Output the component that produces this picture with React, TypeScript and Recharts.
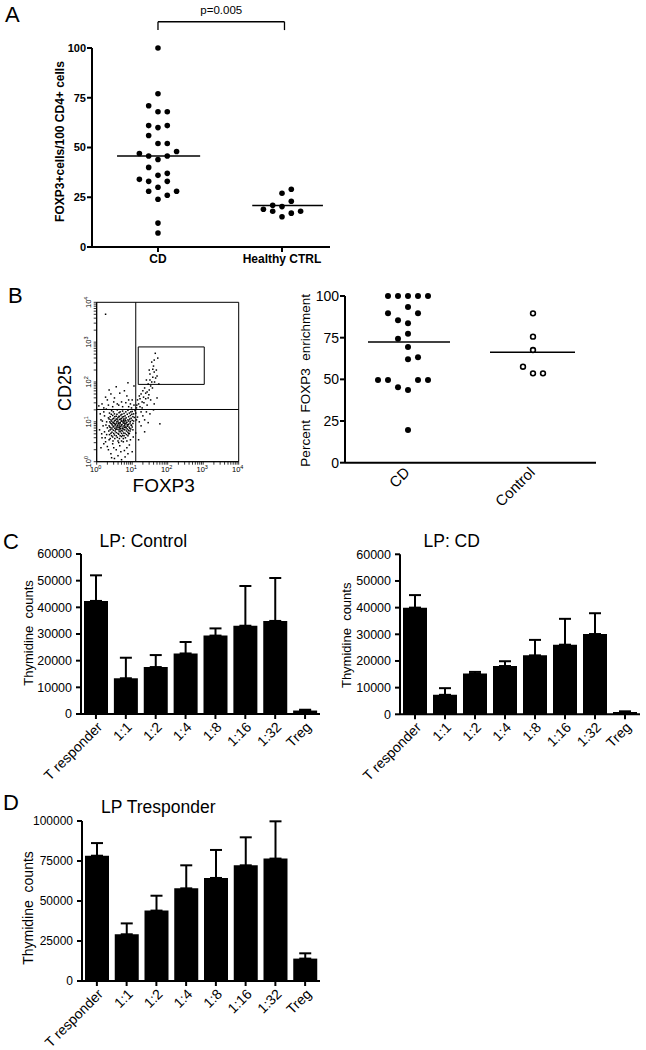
import React from 'react';
import {
  ScatterChart, Scatter, XAxis, YAxis, ReferenceLine, ReferenceArea,
  BarChart, Bar, ErrorBar, Label,
} from 'recharts';

const FONT = '"Liberation Sans", Arial, Helvetica, sans-serif';
const INK = '#000';

// ---------------- Panel A: FOXP3+ cells / 100 CD4+ cells ----------------
const aGroups = ['CD', 'Healthy CTRL'];
const aCdValues = [100, 77, 71, 68, 68, 61, 60, 61, 56, 52, 52, 47, 45.7, 44, 45.7, 48, 40, 34, 33, 36, 37, 30, 33, 28, 26, 28, 24, 12, 7];
const aCdColumn = [0, 0, -1, 0, 1, -1, 0, 1, -1, 0, 1, -2, -1, 0, 1, 2, -1, -2, -1, 0, 1, 0, 1, -1, 1, 2, 0, 0, 0];
const aCtrlValues = [27, 29, 23, 19, 21, 18, 20.3, 15.2, 17, 18];
const aCtrlColumn = [0, 1, 1, -2, -1, -1, 0, 0, 1, 2];
const aMeans = [45.7, 20.8];
const aTicks = [0, 25, 50, 75, 100];
const aPValue = 'p=0.005';

// ---------------- Panel B: flow plot (log10 fluorescence: FOXP3, CD25) ----------------
const flowPoints: [number, number][] = [
  [0.42, 1.28], [0.58, 1.3], [0.73, 1.27], [0.88, 1.29], [1.0, 1.26],
  [0.36, 1.22], [0.5, 1.2], [0.63, 1.23], [0.77, 1.21], [0.92, 1.22], [1.04, 1.2],
  [0.45, 1.16], [0.55, 1.14], [0.68, 1.17], [0.8, 1.15], [0.95, 1.16],
  [0.33, 1.1], [0.48, 1.09], [0.6, 1.11], [0.7, 1.08], [0.83, 1.1], [0.97, 1.09], [1.06, 1.11],
  [0.4, 1.05], [0.52, 1.04], [0.64, 1.06], [0.75, 1.03], [0.88, 1.05], [1.0, 1.04],
  [0.37, 1.0], [0.46, 0.99], [0.57, 1.01], [0.66, 0.98], [0.74, 1.0], [0.85, 0.99], [0.95, 1.01],
  [0.42, 0.95], [0.53, 0.94], [0.62, 0.96], [0.71, 0.93], [0.8, 0.95], [0.9, 0.94], [1.02, 0.96],
  [0.35, 0.9], [0.48, 0.89], [0.58, 0.91], [0.68, 0.88], [0.77, 0.9], [0.86, 0.89], [0.98, 0.91],
  [0.4, 0.85], [0.51, 0.84], [0.63, 0.86], [0.72, 0.83], [0.83, 0.85], [0.93, 0.84],
  [0.38, 0.8], [0.47, 0.79], [0.6, 0.81], [0.69, 0.78], [0.79, 0.8], [0.9, 0.79],
  [0.43, 0.74], [0.55, 0.73], [0.66, 0.75], [0.76, 0.72], [0.88, 0.74],
  [0.36, 0.68], [0.5, 0.67], [0.62, 0.69], [0.73, 0.66], [0.84, 0.68],
  [0.45, 0.62], [0.58, 0.61], [0.7, 0.63], [0.81, 0.6],
  [0.55, 1.07], [0.61, 0.97], [0.69, 1.02], [0.78, 0.97], [0.65, 0.92], [0.72, 1.12], [0.59, 0.87],
  [0.82, 1.03], [0.5, 0.96], [0.67, 0.83], [0.76, 1.07], [0.86, 0.93], [0.63, 1.14], [0.54, 0.81], [0.79, 0.86],
  [0.47, 1.25], [0.66, 1.25], [0.82, 1.25], [0.96, 1.25],
  [0.41, 1.19], [0.57, 1.19], [0.71, 1.19], [0.86, 1.19], [0.99, 1.19],
  [0.38, 1.13], [0.51, 1.13], [0.64, 1.13], [0.76, 1.13], [0.9, 1.13], [1.02, 1.13],
  [0.35, 1.07], [0.45, 1.07], [0.58, 1.07], [0.67, 1.07], [0.8, 1.07], [0.93, 1.07],
  [0.42, 1.02], [0.5, 1.02], [0.6, 1.02], [0.7, 1.02], [0.79, 1.02], [0.9, 1.02], [1.04, 1.02],
  [0.39, 0.97], [0.47, 0.97], [0.56, 0.97], [0.66, 0.97], [0.75, 0.97], [0.83, 0.97], [0.94, 0.97],
  [0.44, 0.92], [0.52, 0.92], [0.6, 0.92], [0.7, 0.92], [0.79, 0.92], [0.88, 0.92], [0.97, 0.92],
  [0.37, 0.87], [0.46, 0.87], [0.55, 0.87], [0.64, 0.87], [0.74, 0.87], [0.81, 0.87], [0.91, 0.87], [1.0, 0.87],
  [0.43, 0.82], [0.56, 0.82], [0.65, 0.82], [0.75, 0.82], [0.86, 0.82], [0.96, 0.82],
  [0.34, 0.77], [0.52, 0.77], [0.63, 0.77], [0.73, 0.77], [0.84, 0.77], [0.94, 0.77],
  [0.4, 0.71], [0.48, 0.71], [0.6, 0.71], [0.7, 0.71], [0.8, 0.71], [0.92, 0.71],
  [0.42, 0.65], [0.55, 0.65], [0.66, 0.65], [0.77, 0.65], [0.88, 0.65],
  [0.38, 0.58], [0.51, 0.58], [0.64, 0.58], [0.75, 0.58],
  [0.46, 0.52], [0.6, 0.52], [0.7, 0.52], [0.85, 0.52],
  [0.15, 1.45], [0.3, 1.55], [0.5, 1.6], [0.7, 1.5], [0.85, 1.65], [0.2, 1.35], [0.95, 1.45], [0.62, 1.42],
  [0.4, 1.7], [0.78, 1.78], [0.55, 1.88], [0.25, 1.62], [1.0, 1.55], [0.9, 1.38], [0.1, 1.2], [0.12, 1.05],
  [0.18, 0.9], [0.08, 0.8], [0.22, 0.75], [0.15, 0.6], [0.25, 0.5], [0.3, 0.38], [0.45, 0.45], [0.55, 0.3],
  [0.65, 0.4], [0.75, 0.5], [0.85, 0.35], [0.95, 0.55], [0.4, 0.2], [0.6, 0.15], [0.8, 0.12], [0.5, 0.08],
  [0.35, 0.55], [0.68, 0.25], [1.0, 0.25], [0.9, 0.7], [1.02, 0.8], [0.28, 1.0], [0.2, 1.25], [0.3, 0.85],
  [0.22, 1.15], [0.27, 1.32], [0.33, 1.42], [0.45, 1.38], [0.58, 1.45], [0.73, 1.38], [0.82, 1.48], [0.98, 1.35],
  [1.05, 1.42], [0.28, 0.68], [0.2, 0.45], [0.33, 0.3], [0.48, 0.35], [0.62, 0.48], [0.78, 0.28], [0.92, 0.42],
  [1.03, 0.62], [0.16, 1.02], [0.26, 0.92], [0.24, 0.6], [0.12, 0.35], [0.42, 0.1], [0.7, 0.05], [0.88, 0.2],
  [0.35, 1.8], [0.65, 1.72], [0.48, 1.5], [0.9, 1.55], [0.06, 1.4], [0.14, 0.7],
  [1.12, 1.35], [1.18, 1.45], [1.22, 1.38], [1.28, 1.5], [1.15, 1.55], [1.32, 1.62], [1.25, 1.7], [1.38, 1.58],
  [1.42, 1.75], [1.35, 1.85], [1.48, 1.8], [1.45, 1.95], [1.52, 1.9], [1.4, 2.05], [1.55, 2.0], [1.58, 2.12],
  [1.5, 2.2], [1.62, 2.25], [1.6, 2.4], [1.66, 2.1], [1.68, 2.3], [1.55, 2.5], [1.72, 2.6], [1.65, 2.72],
  [1.3, 1.78], [1.2, 1.65], [1.45, 1.6], [1.75, 1.95], [1.1, 1.22], [1.15, 1.12], [1.2, 1.0], [1.3, 1.15],
  [1.4, 1.25], [1.25, 0.9], [1.35, 1.05], [1.5, 1.2], [1.62, 1.45], [1.7, 1.6], [1.78, 0.95], [1.1, 0.72],
  [1.08, 1.28], [1.18, 0.55], [1.05, 1.9], [0.88, 1.98], [0.25, 3.7],
  [1.13, 1.42], [1.22, 1.58], [1.33, 1.48], [1.38, 1.72], [1.47, 1.68], [1.5, 2.05], [1.57, 1.85], [1.63, 2.0],
  [1.58, 2.32], [1.7, 2.15], [1.52, 1.55], [1.28, 1.35], [1.42, 1.42], [1.12, 1.05], [1.25, 1.25], [1.6, 1.3],
  [1.35, 0.75], [1.45, 0.98], [1.62, 2.55], [1.48, 2.3],
];
const flowDecades = [0, 1, 2, 3, 4];
const flowQuadrant = { foxp3: 1.1, cd25: 1.31 };
const flowGate = { x1: 1.17, x2: 3.03, y1: 1.94, y2: 2.88 };

// ---------------- Panel B: percent FOXP3 enrichment ----------------
const bGroups = ['CD', 'Control'];
const bCdValues = [100, 100, 100, 100, 100, 93.4, 89.6, 89.6, 85.4, 83.6, 77.4, 74.4, 69.4, 62, 63.2, 49.6, 49.6, 49.6, 49.6, 45.2, 43.6, 19.6];
const bCdColumn = [-2, -1, 0, 1, 2, 0, -2, 1, -1, 0, 0, -1, 0, 0, 1, -3, -2, 1, 2, -1, 0, 0];
const bCtrlValues = [89.6, 75.6, 67.6, 57.6, 53.6, 53.6];
const bCtrlColumn = [0, 0, 0, -1, 0, 1];
const bMeans = [72.4, 66.2];
const bTicks = [0, 25, 50, 75, 100];

// ---------------- Panels C & D: thymidine counts ----------------
const ratioCategories = ['T responder', '1:1', '1:2', '1:4', '1:8', '1:16', '1:32', 'Treg'];
const lpControlMean = [42400, 13400, 17600, 22700, 29400, 33100, 34900, 1300];
const lpControlErr = [9600, 7700, 4500, 4300, 2700, 14900, 16100, 300];
const lpCdMean = [40000, 7300, 15300, 18100, 22100, 26100, 30100, 900];
const lpCdErr = [4700, 2500, 600, 1800, 5800, 9700, 7800, 200];
const lpTrespMean = [78300, 29200, 44000, 57900, 64400, 72300, 76500, 14000];
const lpTrespErr = [7900, 6800, 9300, 14400, 17500, 17500, 23300, 3300];
const cTicks = [0, 10000, 20000, 30000, 40000, 50000, 60000];
const dTicks = [0, 25000, 50000, 75000, 100000];

// ---------------- helpers ----------------
const A_STEP = 0.075;
const B_STEP = 0.08;

const FilledDot = (p: any) => <circle cx={p.cx} cy={p.cy} r={2.8} fill={INK} />;
const FilledDotB = (p: any) => <circle cx={p.cx} cy={p.cy} r={3} fill={INK} />;
const OpenDot = (p: any) => (
  <circle cx={p.cx} cy={p.cy} r={2.4} fill="#fff" stroke={INK} strokeWidth={1.6} />
);
const FlowDot = (p: any) => (
  <rect x={p.cx - 0.75} y={p.cy - 0.75} width={1.5} height={1.5} fill={INK} />
);

function RotTick(props: any) {
  const { x, y, label, fontSize, ox, oy } = props;
  return (
    <g transform={`translate(${Number(x)},${Number(y)})`}>
      <text
        x={ox}
        y={oy}
        transform="rotate(-45)"
        textAnchor="end"
        fontSize={fontSize}
        fontFamily={FONT}
        fill={INK}
      >
        {label}
      </text>
    </g>
  );
}

function FlowXTick(props: any) {
  const { x, y, payload } = props;
  const v = payload.value;
  if (!Number.isInteger(v)) return <g />;
  return (
    <text x={x - 1} y={y + 5} textAnchor="middle" fontSize={7.5} fontFamily={FONT} fill={INK}>
      10<tspan dy={-3} fontSize={5.5}>{v}</tspan>
    </text>
  );
}

function FlowYTick(props: any) {
  const { x, y, payload } = props;
  const v = payload.value;
  if (!Number.isInteger(v)) return <g />;
  return (
    <text
      x={x - 1}
      y={y}
      transform={`rotate(-90 ${x - 1} ${y})`}
      textAnchor="middle"
      fontSize={7.5}
      fontFamily={FONT}
      fill={INK}
    >
      10<tspan dy={-3} fontSize={5.5}>{v}</tspan>
    </text>
  );
}

const flowTicks: number[] = [];
flowDecades.forEach((d) => {
  flowTicks.push(d);
  if (d < 4) [2, 3, 4, 5, 6, 7, 8, 9].forEach((k) => flowTicks.push(d + Math.log10(k)));
});

const axisLine2 = { stroke: INK, strokeWidth: 2 };

// ---------------- Panel A chart ----------------
function PanelA() {
  const cd = aCdValues.map((v, i) => ({ x: 1 + aCdColumn[i] * A_STEP, y: v }));
  const ctrl = aCtrlValues.map((v, i) => ({ x: 2 + aCtrlColumn[i] * A_STEP, y: v }));
  return (
    <ScatterChart width={340} height={275} margin={{ top: 48, right: 10, bottom: 0, left: 0 }}>
      <XAxis
        type="number" dataKey="x" domain={[0.468, 2.387]} ticks={[1, 2]} allowDataOverflow interval={0}
        tickFormatter={(v: number) => aGroups[v - 1]} height={28}
        axisLine={axisLine2} tickLine={axisLine2} tickSize={5} tickMargin={2}
        tick={{ fill: INK, fontSize: 12, fontWeight: 700, fontFamily: FONT }}
      />
      <YAxis
        type="number" dataKey="y" domain={[0, 100]} ticks={aTicks} width={92} interval={0}
        axisLine={axisLine2} tickLine={axisLine2} tickSize={5} tickMargin={1}
        tick={{ fill: INK, fontSize: 11, fontWeight: 700, fontFamily: FONT }}
      >
        <Label
          value="FOXP3+cells/100 CD4+ cells" angle={-90} position="center" dx={14} dy={-6}
          style={{ fontSize: 12, fontWeight: 700, fontFamily: FONT, fill: INK }}
        />
      </YAxis>
      <ReferenceLine segment={[{ x: 0.67, y: aMeans[0] }, { x: 1.34, y: aMeans[0] }]} stroke={INK} strokeWidth={1.5} />
      <ReferenceLine segment={[{ x: 1.76, y: aMeans[1] }, { x: 2.33, y: aMeans[1] }]} stroke={INK} strokeWidth={1.5} />
      <ReferenceLine
        segment={[{ x: 1, y: 113.2 }, { x: 2.02, y: 113.2 }]} ifOverflow="visible" stroke={INK} strokeWidth={1.3}
        label={{ value: aPValue, position: 'top', offset: 8, fill: INK, fontSize: 11.5, fontFamily: FONT }}
      />
      <ReferenceLine segment={[{ x: 1, y: 113.2 }, { x: 1, y: 109 }]} ifOverflow="visible" stroke={INK} strokeWidth={1.3} />
      <ReferenceLine segment={[{ x: 2.02, y: 113.2 }, { x: 2.02, y: 109 }]} ifOverflow="visible" stroke={INK} strokeWidth={1.3} />
      <Scatter data={cd} shape={FilledDot} isAnimationActive={false} />
      <Scatter data={ctrl} shape={FilledDot} isAnimationActive={false} />
    </ScatterChart>
  );
}

// ---------------- Panel B flow chart ----------------
function PanelBFlow() {
  const pts = flowPoints.map(([fx, fy]) => ({ x: fx, y: fy }));
  return (
    <ScatterChart width={250} height={218} margin={{ top: 22.3, right: 11.3, bottom: 0, left: 0 }}>
      <XAxis
        type="number" dataKey="x" domain={[0, 4]} ticks={flowTicks} interval={0} allowDataOverflow height={36.3}
        axisLine={{ stroke: INK, strokeWidth: 1 }} tickLine={{ stroke: INK, strokeWidth: 0.8 }} tickSize={3} tickMargin={2}
        tick={(p: any) => <FlowXTick {...p} />}
      >
        <Label value="FOXP3" position="center" dx={-4} dy={5} style={{ fontSize: 19, fontFamily: FONT, fill: INK }} />
      </XAxis>
      <YAxis
        type="number" dataKey="y" domain={[0, 4]} ticks={flowTicks} interval={0} allowDataOverflow width={96.7}
        axisLine={{ stroke: INK, strokeWidth: 1 }} tickLine={{ stroke: INK, strokeWidth: 0.8 }} tickSize={3} tickMargin={2}
        tick={(p: any) => <FlowYTick {...p} />}
      >
        <Label value="CD25" angle={-90} position="center" dx={16.5} dy={6} style={{ fontSize: 18, fontFamily: FONT, fill: INK }} />
      </YAxis>
      <ReferenceArea x1={0} x2={4} y1={0} y2={4} fill="none" fillOpacity={0} stroke={INK} strokeWidth={1} />
      <ReferenceLine x={flowQuadrant.foxp3} stroke={INK} strokeWidth={1} />
      <ReferenceLine y={flowQuadrant.cd25} stroke={INK} strokeWidth={1} />
      <ReferenceArea x1={flowGate.x1} x2={flowGate.x2} y1={flowGate.y1} y2={flowGate.y2} fill="none" fillOpacity={0} stroke={INK} strokeWidth={1} />
      <Scatter data={pts} shape={FlowDot} isAnimationActive={false} />
    </ScatterChart>
  );
}

// ---------------- Panel B enrichment chart ----------------
function PanelBEnrich() {
  const cd = bCdValues.map((v, i) => ({ x: 1 + bCdColumn[i] * B_STEP, y: v }));
  const ctrl = bCtrlValues.map((v, i) => ({ x: 2 + bCtrlColumn[i] * B_STEP, y: v }));
  return (
    <ScatterChart width={396} height={240} margin={{ top: 26, right: 50, bottom: 0, left: 0 }}>
      <XAxis
        type="number" dataKey="x" domain={[0.496, 2.504]} ticks={[1, 2]} allowDataOverflow interval={0}
        height={47.3}
        axisLine={axisLine2} tickLine={false} tickSize={0} tickMargin={2}
        tick={(p: any) => (
          <RotTick x={p.x} y={p.y} label={bGroups[p.payload.value - 1]} fontSize={15} ox={-4.2} oy={8.1} />
        )}
      />
      <YAxis
        type="number" dataKey="y" domain={[0, 100]} ticks={bTicks} width={95} interval={0}
        axisLine={axisLine2} tickLine={axisLine2} tickSize={5} tickMargin={1}
        tick={{ fill: INK, fontSize: 14, fontFamily: FONT }}
      >
        <Label
          value={'Percent\u00A0 FOXP3\u00A0 enrichment'} angle={-90} position="center" dx={7.5} dy={1}
          style={{ fontSize: 13.5, fontFamily: FONT, fill: INK }}
        />
      </YAxis>
      <ReferenceLine segment={[{ x: 0.68, y: bMeans[0] }, { x: 1.336, y: bMeans[0] }]} stroke={INK} strokeWidth={1.5} />
      <ReferenceLine segment={[{ x: 1.656, y: bMeans[1] }, { x: 2.336, y: bMeans[1] }]} stroke={INK} strokeWidth={1.5} />
      <Scatter data={cd} shape={FilledDotB} isAnimationActive={false} />
      <Scatter data={ctrl} shape={OpenDot} isAnimationActive={false} />
    </ScatterChart>
  );
}

// ---------------- Bar panels ----------------
type BarPanelProps = {
  width: number;
  height: number;
  means: number[];
  errs: number[];
  ticks: number[];
  max: number;
  yWidth: number;
  margin: { top: number; right: number; bottom: number; left: number };
  xHeight: number;
  titleDx: number;
  titleDy: number;
  titleSize: number;
  tickFont: number;
};

function BarPanel(props: BarPanelProps) {
  const { width, height, means, errs, ticks, max, yWidth, margin, xHeight, titleDx, titleDy, titleSize, tickFont } = props;
  const data = ratioCategories.map((name, i) => ({ name, mean: means[i], err: [0, errs[i]] }));
  return (
    <BarChart width={width} height={height} data={data} margin={margin} barSize={24}>
      <XAxis
        dataKey="name" interval={0} height={xHeight}
        axisLine={axisLine2} tickLine={axisLine2} tickSize={5} tickMargin={2}
        angle={-45} textAnchor="end"
        tick={{ fill: INK, fontSize: 14, fontFamily: FONT }}
      />
      <YAxis
        type="number" domain={[0, max]} ticks={ticks} width={yWidth} interval={0} allowDataOverflow
        axisLine={axisLine2} tickLine={axisLine2} tickSize={5} tickMargin={4}
        tick={{ fill: INK, fontSize: tickFont, fontFamily: FONT }}
      >
        <Label
          value={'Thymidine\u00A0 counts'} angle={-90} position="center" dx={titleDx} dy={titleDy}
          style={{ fontSize: titleSize, fontFamily: FONT, fill: INK }}
        />
      </YAxis>
      <Bar dataKey="mean" fill={INK} isAnimationActive={false}>
        <ErrorBar dataKey="err" direction="y" width={6} stroke={INK} strokeWidth={2} isAnimationActive={false} />
      </Bar>
    </BarChart>
  );
}

export default function App() {
  return (
    <div style={{ position: 'absolute', left: 0, top: 0, width: 646, height: 1050, background: '#fff', fontFamily: FONT }}>
      <div style={{ position: 'absolute', left: 0, top: 0 }}>
        <PanelA />
      </div>
      <div style={{ position: 'absolute', left: 0, top: 280 }}>
        <PanelBFlow />
      </div>
      <div style={{ position: 'absolute', left: 250, top: 270 }}>
        <PanelBEnrich />
      </div>
      <div style={{ position: 'absolute', left: 0, top: 520 }}>
        <BarPanel
          width={330} height={270} means={lpControlMean} errs={lpControlErr} ticks={cTicks} max={60000} yWidth={81}
          margin={{ top: 34, right: 10, bottom: 0, left: 0 }} xHeight={76}
          titleDx={-12.2} titleDy={-1} titleSize={13} tickFont={12.5}
        />
      </div>
      <div style={{ position: 'absolute', left: 320, top: 520 }}>
        <BarPanel
          width={326} height={270} means={lpCdMean} errs={lpCdErr} ticks={cTicks} max={60000} yWidth={80}
          margin={{ top: 34.3, right: 6, bottom: 0, left: 0 }} xHeight={75.7}
          titleDx={-13.3} titleDy={1} titleSize={13} tickFont={12.5}
        />
      </div>
      <div style={{ position: 'absolute', left: 0, top: 790 }}>
        <BarPanel
          width={330} height={260} means={lpTrespMean} errs={lpTrespErr} ticks={dTicks} max={100000} yWidth={82}
          margin={{ top: 31, right: 10, bottom: 0, left: 0 }} xHeight={69}
          titleDx={-12.7} titleDy={7} titleSize={14} tickFont={12}
        />
      </div>
      <svg
        width={646} height={1050}
        style={{ position: 'absolute', left: 0, top: 0, pointerEvents: 'none' }}
        fontFamily={FONT} fill={INK}
      >
        <text x={5} y={21.7} fontSize={22}>A</text>
        <text x={8} y={303} fontSize={22}>B</text>
        <text x={3} y={549} fontSize={22}>C</text>
        <text x={3} y={810} fontSize={22}>D</text>
        <text x={143.3} y={547} fontSize={17.5} textAnchor="middle">LP: Control</text>
        <text x={451.7} y={547} fontSize={17.5} textAnchor="middle">LP: CD</text>
        <text x={158.3} y={813} fontSize={17.5} textAnchor="middle">LP Tresponder</text>
      </svg>
    </div>
  );
}
